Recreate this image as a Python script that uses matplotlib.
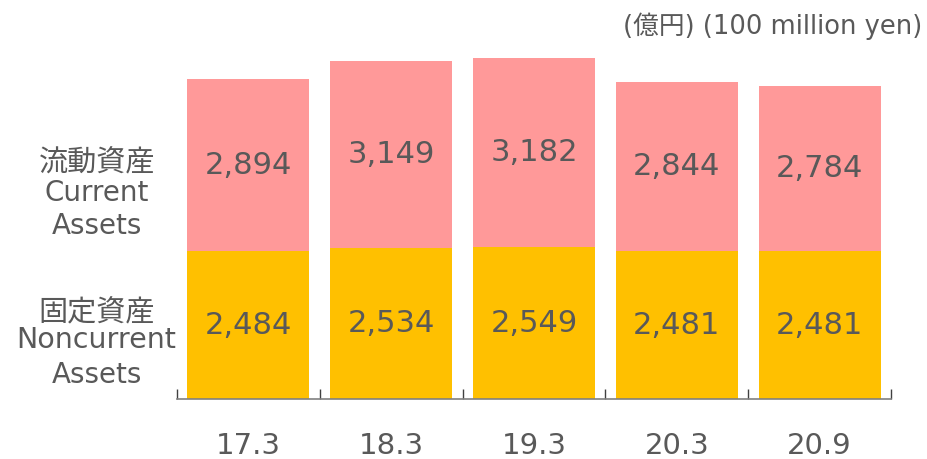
import matplotlib
matplotlib.use("Agg")
import matplotlib.pyplot as plt
import numpy as np

categories = ["17.3", "18.3", "19.3", "20.3", "20.9"]
noncurrent = [2484, 2534, 2549, 2481, 2481]
current = [2894, 3149, 3182, 2844, 2784]

FAM = ['DejaVu Sans', 'Noto Sans CJK JP']
plt.rcParams['font.family'] = FAM
TXT = '#595959'
PINK = '#FF9999'
ORANGE = '#FFC000'

fig = plt.figure(figsize=(9.27, 4.59), dpi=100)
ax = fig.add_axes([177/927, 60/459, (891-177)/927, (399-40)/459])

x = np.arange(len(categories))
w = 0.853
ax.bar(x, noncurrent, width=w, color=ORANGE)
ax.bar(x, current, width=w, bottom=noncurrent, color=PINK)

for i in range(len(categories)):
    ax.text(x[i], noncurrent[i] / 2, f"{noncurrent[i]:,}", ha='center', va='center',
            fontsize=22, color=TXT)
    ax.text(x[i], noncurrent[i] + current[i] / 2, f"{current[i]:,}", ha='center', va='center',
            fontsize=22, color=TXT)

ax.set_xlim(-0.5, len(categories) - 0.5)
ax.set_ylim(0, (399 - 40) / 0.0595)

for s in ['top', 'right', 'left']:
    ax.spines[s].set_visible(False)
ax.spines['bottom'].set_color('#808080')
ax.spines['bottom'].set_linewidth(1.2)
ax.set_yticks([])
ax.set_xticks(x)
ax.set_xticklabels(categories, fontsize=21, color=TXT)
ax.tick_params(axis='x', which='major', length=0, pad=24)
ax.set_xticks(np.arange(-0.5, len(categories)), minor=True)
ax.tick_params(axis='x', which='minor', direction='in', length=7, width=1, color='#404040')

def ftext(px, py, s, size, ha='center', va='baseline'):
    fig.text(px/927, 1 - py/459, s, ha=ha, va=va, fontsize=size, color=TXT, family=FAM)

ftext(97, 171, "流動資産", 21)
ftext(97, 201, "Current", 20)
ftext(97, 234, "Assets", 20)
ftext(97, 321, "固定資産", 21)
ftext(96, 348, "Noncurrent", 20.5)
ftext(97, 383, "Assets", 20)
ftext(922, 34, "(億円) (100 million yen)", 18.5, ha='right')

fig.savefig("out.png", dpi=100)
